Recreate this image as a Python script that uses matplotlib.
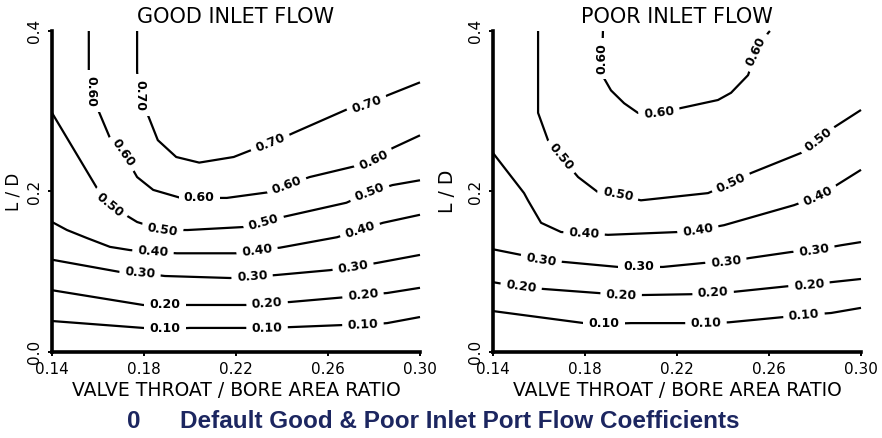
import numpy as np
import matplotlib
matplotlib.use("Agg")
import matplotlib.pyplot as plt

# ---- axis definitions -------------------------------------------------------
x_ticks = [0.14, 0.18, 0.22, 0.26, 0.30]
x_tick_labels = ["0.14", "0.18", "0.22", "0.26", "0.30"]
y_ticks = [0.0, 0.2, 0.4]
y_tick_labels = ["0.0", "0.2", "0.4"]

panel_titles = ["GOOD INLET FLOW", "POOR INLET FLOW"]
x_label = "VALVE THROAT / BORE AREA RATIO"
y_label = "L / D"
caption_number = "0"
caption_text = "Default Good & Poor Inlet Port Flow Coefficients"

# ---- good inlet flow: flow-coefficient iso-lines ---------------------------
good_levels = [0.70, 0.60, 0.50, 0.40, 0.30, 0.20, 0.10]
good_x = [
    [0.177, 0.177, 0.178, 0.182, 0.186, 0.194, 0.204, 0.219, 0.227, 0.235, 0.245, 0.268, 0.277, 0.286, 0.300],
    [0.156, 0.156, 0.157, 0.160, 0.165, 0.171, 0.177, 0.184, 0.196, 0.204, 0.216, 0.234, 0.242, 0.252, 0.271, 0.280, 0.288, 0.300],
    [0.140, 0.160, 0.165, 0.177, 0.188, 0.199, 0.225, 0.232, 0.240, 0.268, 0.278, 0.288, 0.300],
    [0.140, 0.1465, 0.1552, 0.1652, 0.1739, 0.1839, 0.1943, 0.2204, 0.2291, 0.2391, 0.2639, 0.2739, 0.2839, 0.300],
    [0.140, 0.1696, 0.1783, 0.1891, 0.2174, 0.2270, 0.2378, 0.2609, 0.2709, 0.2813, 0.300],
    [0.140, 0.1796, 0.1891, 0.200, 0.2248, 0.2335, 0.2435, 0.2683, 0.2752, 0.2857, 0.300],
    [0.140, 0.1796, 0.1891, 0.200, 0.2248, 0.2335, 0.2435, 0.2665, 0.2752, 0.2857, 0.300],
]
good_y = [
    [0.400, 0.349, 0.320, 0.293, 0.264, 0.243, 0.236, 0.243, 0.252, 0.260, 0.273, 0.302, 0.308, 0.320, 0.336],
    [0.400, 0.349, 0.325, 0.302, 0.268, 0.248, 0.218, 0.202, 0.192, 0.192, 0.192, 0.199, 0.208, 0.218, 0.231, 0.239, 0.254, 0.270],
    [0.298, 0.202, 0.183, 0.162, 0.152, 0.152, 0.156, 0.162, 0.168, 0.186, 0.199, 0.208, 0.214],
    [0.162, 0.152, 0.142, 0.131, 0.127, 0.1246, 0.123, 0.123, 0.127, 0.130, 0.143, 0.152, 0.161, 0.171],
    [0.115, 0.0997, 0.0984, 0.0947, 0.0922, 0.0935, 0.096, 0.102, 0.106, 0.111, 0.121],
    [0.077, 0.0586, 0.0586, 0.0586, 0.0586, 0.061, 0.0623, 0.0685, 0.071, 0.0735, 0.080],
    [0.0386, 0.030, 0.0287, 0.030, 0.030, 0.030, 0.031, 0.0336, 0.0336, 0.036, 0.0436],
]

# ---- poor inlet flow: flow-coefficient iso-lines ---------------------------
poor_levels = [0.60, 0.50, 0.40, 0.30, 0.20, 0.10]
poor_x = [
    [0.1878, 0.1875, 0.1883, 0.1913, 0.1970, 0.2030, 0.2122, 0.2217, 0.2378, 0.2435, 0.2509, 0.2543, 0.2596, 0.2604],
    [0.1596, 0.1596, 0.1639, 0.1696, 0.1770, 0.1857, 0.1943, 0.2043, 0.2335, 0.2435, 0.2522, 0.2739, 0.2813, 0.2883, 0.300],
    [0.140, 0.1535, 0.1552, 0.1609, 0.1696, 0.1796, 0.1900, 0.2204, 0.2291, 0.2404, 0.2709, 0.2813, 0.2883, 0.300],
    [0.140, 0.1522, 0.1609, 0.1717, 0.1943, 0.2035, 0.2139, 0.2317, 0.2413, 0.2513, 0.2696, 0.2796, 0.2913, 0.300],
    [0.140, 0.1522, 0.1622, 0.1857, 0.1957, 0.2052, 0.2261, 0.2357, 0.2448, 0.2683, 0.2774, 0.2870, 0.300],
    [0.140, 0.1796, 0.1883, 0.2000, 0.2248, 0.2326, 0.2426, 0.2665, 0.2752, 0.2870, 0.300],
]
poor_y = [
    [0.400, 0.366, 0.341, 0.326, 0.310, 0.298, 0.298, 0.304, 0.314, 0.323, 0.345, 0.374, 0.3975, 0.400],
    [0.400, 0.298, 0.264, 0.243, 0.218, 0.199, 0.196, 0.189, 0.198, 0.2106, 0.223, 0.248, 0.264, 0.280, 0.3016],
    [0.248, 0.198, 0.189, 0.161, 0.1495, 0.148, 0.146, 0.1495, 0.152, 0.158, 0.183, 0.194, 0.206, 0.227],
    [0.128, 0.121, 0.1146, 0.112, 0.106, 0.106, 0.106, 0.111, 0.112, 0.117, 0.1246, 0.127, 0.133, 0.137],
    [0.087, 0.081, 0.0785, 0.0735, 0.071, 0.071, 0.072, 0.0735, 0.075, 0.082, 0.0835, 0.087, 0.091],
    [0.051, 0.036, 0.035, 0.036, 0.036, 0.036, 0.037, 0.0436, 0.046, 0.0486, 0.055],
]

# where along each line (vertex index) the inline value label sits;
# a fixed rotation is given for labels on vertical stretches
good_label_at = [
    [(2, -90), (9, None), (12, None)],
    [(2, -90), (5, None), (9, None), (12, None), (15, None)],
    [(2, None), (4, None), (7, None), (10, None)],
    [(5, None), (8, None), (11, None)],
    [(2, None), (5, None), (8, None)],
    [(2, None), (5, None), (8, None)],
    [(2, None), (5, None), (8, None)],
]
poor_label_at = [
    [(1, 90), (6, None), (11, None)],
    [(3, None), (6, None), (9, None), (12, None)],
    [(5, None), (8, None), (11, None)],
    [(2, None), (5, None), (8, None), (11, None)],
    [(1, None), (4, None), (7, None), (10, None)],
    [(2, None), (5, None), (8, None)],
]

FIG_W, FIG_H = 882, 438
fig = plt.figure(figsize=(FIG_W / 100, FIG_H / 100), dpi=100)
fig.patch.set_facecolor("white")

ax_w, ax_h = 368 / FIG_W, 321 / FIG_H
ax_bottom = (FIG_H - 352) / FIG_H
axes = [
    fig.add_axes([52 / FIG_W, ax_bottom, ax_w, ax_h]),
    fig.add_axes([493 / FIG_W, ax_bottom, ax_w, ax_h]),
]
# y-label anchor (right edge of the rotated text), in axes fractions
ylabel_offsets = [-29 / 368, -36 / 368]
ylabel_sizes = [12, 13.5]


def style_axes(ax, title, ylabel_x, ylabel_size):
    ax.set_xlim(0.14, 0.30)
    ax.set_ylim(0.0, 0.4)
    for side in ("top", "right"):
        ax.spines[side].set_visible(False)
    for side in ("left", "bottom"):
        ax.spines[side].set_linewidth(2.6)
        ax.spines[side].set_capstyle("projecting")
    ax.set_xticks(x_ticks)
    ax.set_xticklabels(x_tick_labels, fontsize=11)
    ax.set_yticks(y_ticks)
    ax.set_yticklabels(y_tick_labels, fontsize=11, rotation=90, va="center")
    ax.tick_params(axis="both", direction="out", length=3, width=1.4)
    ax.tick_params(axis="x", pad=4)
    ax.tick_params(axis="y", pad=4)
    ax.set_xlabel(x_label, fontsize=13.5, labelpad=3)
    ax.set_ylabel(y_label, fontsize=ylabel_size)
    ax.yaxis.set_label_coords(ylabel_x, 0.5)
    ax.set_title(title, fontsize=15, pad=6)


def draw_isoline(ax, xs, ys, level, label_spec):
    ax.plot(xs, ys, color="black", lw=1.6, solid_joinstyle="round",
            solid_capstyle="butt", zorder=2, clip_on=False)
    pts = ax.transData.transform(np.column_stack([xs, ys]))
    for idx, rot in label_spec:
        if rot is None:
            a = pts[max(idx - 1, 0)]
            b = pts[min(idx + 1, len(pts) - 1)]
            rot = np.degrees(np.arctan2(b[1] - a[1], b[0] - a[0]))
            if rot > 90:
                rot -= 180
            if rot < -90:
                rot += 180
        ax.text(xs[idx], ys[idx], f"{level:.2f}", rotation=rot,
                rotation_mode="anchor", ha="center", va="center",
                fontsize=9, fontweight="bold", zorder=3,
                bbox=dict(boxstyle="square,pad=0.42", fc="white", ec="none"))


panels = [
    (good_levels, good_x, good_y, good_label_at),
    (poor_levels, poor_x, poor_y, poor_label_at),
]
for ax, title, ylx, yls, (levels, xs_all, ys_all, labels_all) in zip(
        axes, panel_titles, ylabel_offsets, ylabel_sizes, panels):
    style_axes(ax, title, ylx, yls)
    for level, xs, ys, spec in zip(levels, xs_all, ys_all, labels_all):
        draw_isoline(ax, xs, ys, level, spec)

navy = "#1c2660"
cap_y = (FIG_H - 421) / FIG_H
fig.text(134 / FIG_W, cap_y, caption_number, color=navy,
         fontsize=17.5, fontweight="bold", family="Liberation Sans",
         ha="center", va="center")
fig.text(180 / FIG_W, cap_y, caption_text, color=navy,
         fontsize=17.5, fontweight="bold", family="Liberation Sans",
         ha="left", va="center")

fig.savefig("out.png", dpi=100, facecolor="white")
